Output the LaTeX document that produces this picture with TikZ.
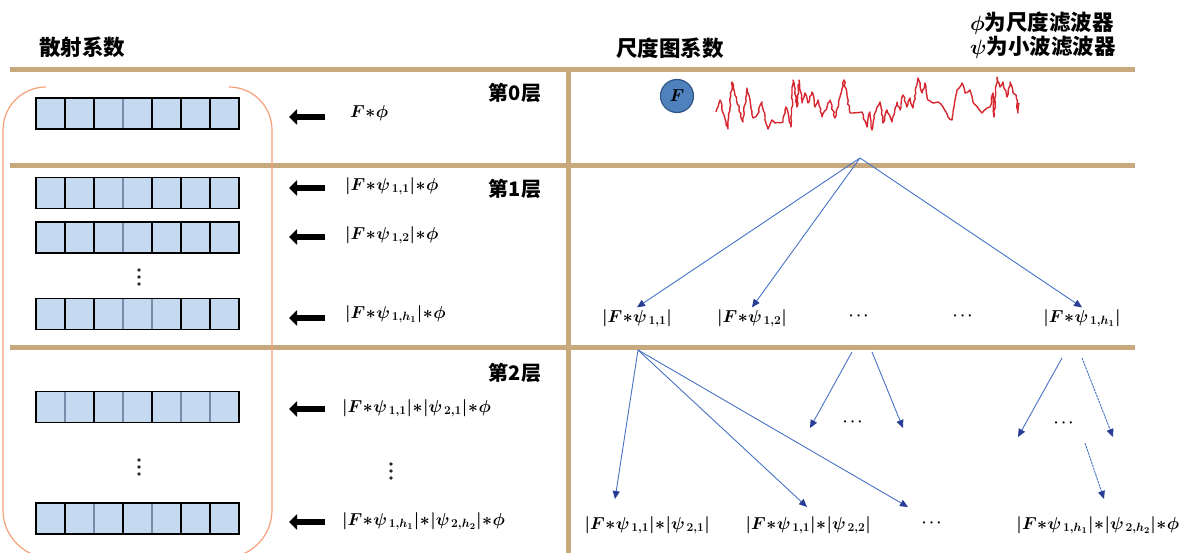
\documentclass[tikz,border=0pt]{standalone}
\usepackage{fontspec}
\usepackage{amsmath}
\newfontfamily\cjk{Noto Sans CJK SC}
\usetikzlibrary{arrows.meta,decorations.pathmorphing}
\definecolor{rulebrown}{RGB}{200,168,125}
\definecolor{barblue}{RGB}{197,217,241}
\definecolor{lightdiv}{RGB}{120,140,170}
\definecolor{bracketorange}{RGB}{244,160,120}
\definecolor{lineblue}{RGB}{70,114,196}
\definecolor{tipblue}{RGB}{40,60,150}
\definecolor{sigred}{RGB}{214,39,48}
\definecolor{circblue}{RGB}{79,129,189}
\definecolor{circedge}{RGB}{50,85,135}
\newcommand\fml[1]{{\boldmath\medmuskip=0.5mu$#1$}}
\newcommand\coefbar[3]{%
  \node[coef] (#1) at (137.5,#2) {};
  \foreach \i in {1,...,6} \draw[line width=1.4pt] ({36+29*\i},{#2-15.5}) -- ({36+29*\i},{#2+15.5});
  \foreach \i in {#3} \draw[line width=1.4pt,lightdiv] ({36+29*\i},{#2-15.2}) -- ({36+29*\i},{#2+15.2});
  \node[coef,fill=none] at (137.5,#2) {};
}
\begin{document}
\begin{tikzpicture}[x=1pt,y=-1pt,
  rule/.style={draw=rulebrown,line width=5pt},
  coef/.style={draw=black,line width=1.6pt,fill=barblue,minimum width=203pt,minimum height=31pt,inner sep=0pt},
  bigarrow/.style={line width=6.5pt,-{Triangle[length=8pt,width=15pt]}},
  fm/.style={font=\fontsize{18.5}{21}\selectfont,inner sep=1pt},
  tl/.style={font=\fontsize{18.5}{21}\selectfont,inner sep=1.5pt},
  dots/.style={font=\fontsize{15}{18}\selectfont,inner sep=1pt},
  hdr/.style={font=\cjk\bfseries\fontsize{21.5}{25}\selectfont,inner sep=0pt},
  lyr/.style={font=\cjk\bfseries\fontsize{20}{24}\selectfont,inner sep=0pt},
  vdot/.style={circle,fill=black!85,inner sep=0pt,minimum size=3.6pt},
  treearrow/.style={draw=lineblue,line width=0.9pt,-{Triangle[length=8pt,width=7pt,color=tipblue]}},
  dashedarrow/.style={treearrow,dash pattern=on 2.5pt off 0.8pt},
  bracket/.style={draw=bracketorange,line width=1.2pt}]
\useasboundingbox (0,0) rectangle (1189,553);

% headers
\node[hdr] (hleft) at (82,47) {散射系数};
\node[hdr] (hright) at (670,48) {尺度图系数};
\node[hdr,anchor=west] (leg1) at (970,23) {\fml{\phi}为尺度滤波器};
\node[hdr,anchor=west] (leg2) at (970,47) {\fml{\psi}为小波滤波器};

% rules
\draw[rule] (10,70) -- (1135,70);
\draw[rule] (10,166) -- (1135,166);
\draw[rule] (10,348) -- (1135,348);
\draw[rule] (568,68) -- (568,553);

% orange bracket
\draw[bracket] (46,87) [rounded corners=43pt] -- (3,87) -- (3,300) [rounded corners=48pt] -- (3,558) -- (272,558) -- (272,300) [rounded corners=43pt] -- (272,87) -- (229,87);

% coefficient bars
\coefbar{b0}{113.5}{3}
\coefbar{b11}{193}{3}
\coefbar{b12}{237.5}{3}
\coefbar{b1h}{314}{3,4}
\coefbar{b21}{407}{1,3,5,6}
\coefbar{b2h}{518.5}{2,4}
\foreach \y in {270,277,284,460,467,474} \node[vdot] (dl\y) at (139,\y) {};
\foreach \y in {464,471,478} \node[vdot] (dm\y) at (391,\y) {};

% big arrows
\foreach \n/\y in {0/117,11/188,12/237,1h/318,21/409,2h/522}{
  \coordinate (as\n) at (325,\y);
  \coordinate (ae\n) at (289,\y);
  \draw[bigarrow] (as\n) -- (ae\n);
}

% formulas
\node[fm,anchor=west] (f0) at (349,113) {\fml{F\ast\phi}};
\node[fm,anchor=west] (f11) at (344,186) {\fml{|F\ast\psi_{\,1,1}|\ast\phi}};
\node[fm,anchor=west] (f12) at (344,235) {\fml{|F\ast\psi_{\,1,2}|\ast\phi}};
\node[fm,anchor=west] (f1h) at (344,314) {\fml{|F\ast\psi_{\,1,h_1}|\ast\phi}};
\node[fm,anchor=west] (f21) at (341,408) {\fml{|F\ast\psi_{\,1,1}|\ast|\psi_{\,2,1}|\ast\phi}};
\node[fm,anchor=west] (f2h) at (341,521) {\fml{|F\ast\psi_{\,1,h_1}|\ast|\psi_{\,2,h_2}|\ast\phi}};

% layer labels
\node[lyr] (l0) at (515,93) {第0层};
\node[lyr] (l1) at (515,189) {第1层};
\node[lyr] (l2) at (515,373) {第2层};

% F circle and signal
\node[circle,draw=circedge,line width=1.2pt,fill=circblue,minimum size=33pt,inner sep=0pt,font=\fontsize{19}{22}\selectfont] (Fc) at (677,96) {\fml{F}};
\pgfmathsetseed{7}
\draw[sigred,line width=1.4pt,line join=round,decorate,decoration={random steps,segment length=3pt,amplitude=0.8pt}]
 plot coordinates {(716,112) (720,100) (723,113) (728,129) (732,82) (735,95) (739,108) (743,122) (747,88) (750,100) (753,118) (757,115) (762,102) (765,117) (768,129) (772,120) (775,123) (783,122) (786,107) (791,127) (793,80) (797,107) (799,80) (802,103) (805,93) (808,103) (812,92) (815,107) (818,100) (822,117) (827,107) (830,100) (835,118) (844,80) (850,113) (862,112) (867,127) (870,112) (872,130) (875,113) (880,102) (883,123) (887,110) (892,122) (897,102) (900,110) (903,95) (907,107) (910,98) (913,108) (918,78) (922,93) (925,83) (928,100) (933,103) (938,102) (943,107) (948,117) (952,120) (957,90) (962,83) (965,93) (970,90) (973,102) (978,108) (982,113) (987,108) (990,107) (993,93) (994,117) (997,77) (1000,87) (1003,82) (1007,97) (1010,82) (1013,93) (1016,95) (1018,113) (1019,103)};

% tree level 1
\coordinate (apex) at (860,158);
\node[tl] (L1) at (637,318) {\fml{|F\ast\psi_{\,1,1}|}};
\node[tl] (L2) at (752,318) {\fml{|F\ast\psi_{\,1,2}|}};
\node[dots] (D1) at (860,316) {\fml{\boldsymbol\cdots}};
\node[dots] (D2) at (964,316) {\fml{\boldsymbol\cdots}};
\node[tl] (Lh) at (1082,318) {\fml{|F\ast\psi_{\,1,h_1}|}};
\draw[treearrow] (apex) -- (L1.north);
\draw[treearrow] (apex) -- (L2.north);
\draw[treearrow] (apex) -- (Lh.north);

% tree level 2
\node[tl,anchor=west] (M1) at (583,525) {\fml{|F\ast\psi_{\,1,1}|\ast|\psi_{\,2,1}|}};
\node[tl,anchor=west] (M2) at (744,525) {\fml{|F\ast\psi_{\,1,1}|\ast|\psi_{\,2,2}|}};
\node[dots] (D3) at (933,523) {\fml{\boldsymbol\cdots}};
\node[tl,anchor=east] (M4) at (1181,525) {\fml{|F\ast\psi_{\,1,h_1}|\ast|\psi_{\,2,h_2}|\ast\phi}};
\node[dots] (D4) at (854,422) {\fml{\boldsymbol\cdots}};
\node[dots] (D5) at (1065,423) {\fml{\boldsymbol\cdots}};
\coordinate (o1) at (638,350);
\coordinate (t1) at (615,499);
\coordinate (t2) at (807,507);
\coordinate (t3) at (908,507);
\draw[treearrow] (o1) -- (t1);
\draw[treearrow] (o1) -- (t2);
\draw[treearrow] (o1) -- (t3);
\coordinate (m1s) at (852,352); \coordinate (m1e) at (810,428);
\coordinate (m2s) at (872,352); \coordinate (m2e) at (903,428);
\draw[treearrow] (m1s) -- (m1e);
\draw[treearrow] (m2s) -- (m2e);
\coordinate (r1s) at (1062,358); \coordinate (r1e) at (1018,437);
\coordinate (r2s) at (1082,358); \coordinate (r2e) at (1113,437);
\coordinate (r3s) at (1085,443); \coordinate (r3e) at (1104,499);
\draw[treearrow] (r1s) -- (r1e);
\draw[dashedarrow] (r2s) -- (r2e);
\draw[dashedarrow] (r3s) -- (r3e);
\end{tikzpicture}
\end{document}
